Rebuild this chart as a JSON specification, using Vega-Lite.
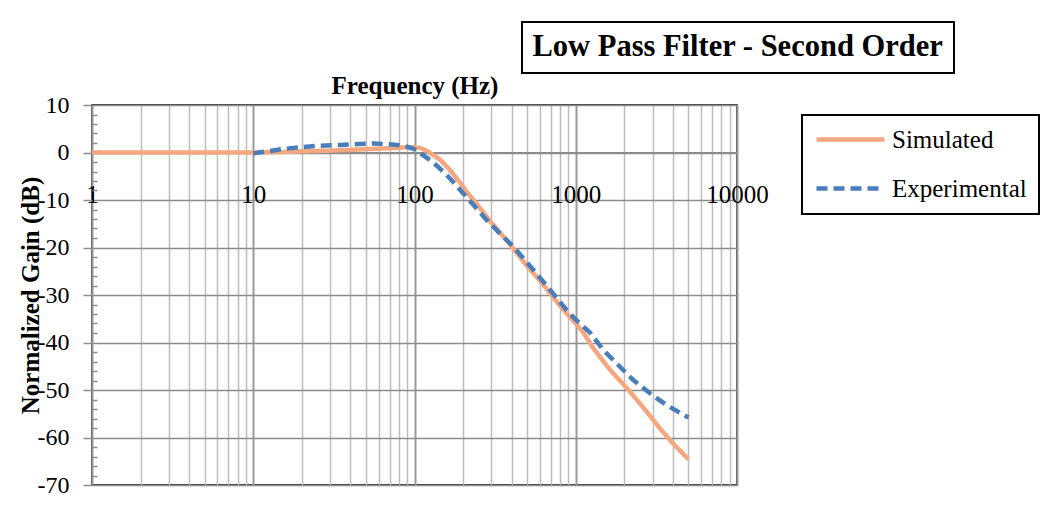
{
  "$schema": "https://vega.github.io/schema/vega-lite/v6.json",
  "width": 645,
  "height": 380,
  "autosize": "none",
  "padding": {"left": 92, "top": 105, "right": 324, "bottom": 30},
  "background": "white",
  "config": {
    "font": "Liberation Serif",
    "view": {"stroke": "black", "strokeWidth": 1.5},
    "legend": {"strokeWidth": 2}
  },
  "data": {
    "values": [
      {"f": 1, "gain": 0, "series": "Simulated"},
      {"f": 2, "gain": 0, "series": "Simulated"},
      {"f": 3, "gain": 0, "series": "Simulated"},
      {"f": 5, "gain": 0, "series": "Simulated"},
      {"f": 7, "gain": 0, "series": "Simulated"},
      {"f": 10, "gain": 0, "series": "Simulated"},
      {"f": 15, "gain": 0.1, "series": "Simulated"},
      {"f": 20, "gain": 0.25, "series": "Simulated"},
      {"f": 30, "gain": 0.4, "series": "Simulated"},
      {"f": 40, "gain": 0.55, "series": "Simulated"},
      {"f": 50, "gain": 0.7, "series": "Simulated"},
      {"f": 70, "gain": 0.9, "series": "Simulated"},
      {"f": 90, "gain": 1.1, "series": "Simulated"},
      {"f": 100, "gain": 1.1, "series": "Simulated"},
      {"f": 110, "gain": 0.9, "series": "Simulated"},
      {"f": 120, "gain": 0.3, "series": "Simulated"},
      {"f": 130, "gain": -0.5, "series": "Simulated"},
      {"f": 144, "gain": -1.5, "series": "Simulated"},
      {"f": 155, "gain": -2.6, "series": "Simulated"},
      {"f": 166, "gain": -3.7, "series": "Simulated"},
      {"f": 183, "gain": -5.5, "series": "Simulated"},
      {"f": 200, "gain": -7.2, "series": "Simulated"},
      {"f": 211, "gain": -8.3, "series": "Simulated"},
      {"f": 231, "gain": -9.9, "series": "Simulated"},
      {"f": 267, "gain": -12.6, "series": "Simulated"},
      {"f": 300, "gain": -14.8, "series": "Simulated"},
      {"f": 338, "gain": -16.8, "series": "Simulated"},
      {"f": 400, "gain": -19.8, "series": "Simulated"},
      {"f": 431, "gain": -21.2, "series": "Simulated"},
      {"f": 500, "gain": -23.9, "series": "Simulated"},
      {"f": 545, "gain": -25.4, "series": "Simulated"},
      {"f": 600, "gain": -27.0, "series": "Simulated"},
      {"f": 692, "gain": -29.6, "series": "Simulated"},
      {"f": 800, "gain": -32.3, "series": "Simulated"},
      {"f": 879, "gain": -33.9, "series": "Simulated"},
      {"f": 1000, "gain": -36.0, "series": "Simulated"},
      {"f": 1114, "gain": -37.9, "series": "Simulated"},
      {"f": 1285, "gain": -41.2, "series": "Simulated"},
      {"f": 1600, "gain": -45.4, "series": "Simulated"},
      {"f": 2070, "gain": -49.6, "series": "Simulated"},
      {"f": 2600, "gain": -53.5, "series": "Simulated"},
      {"f": 3333, "gain": -58.1, "series": "Simulated"},
      {"f": 4000, "gain": -61.2, "series": "Simulated"},
      {"f": 5000, "gain": -64.6, "series": "Simulated"},
      {"f": 10, "gain": -0.2, "series": "Experimental"},
      {"f": 12, "gain": 0.2, "series": "Experimental"},
      {"f": 15, "gain": 0.7, "series": "Experimental"},
      {"f": 19.5, "gain": 1.1, "series": "Experimental"},
      {"f": 25, "gain": 1.4, "series": "Experimental"},
      {"f": 35, "gain": 1.6, "series": "Experimental"},
      {"f": 45, "gain": 1.8, "series": "Experimental"},
      {"f": 56, "gain": 1.9, "series": "Experimental"},
      {"f": 65, "gain": 1.8, "series": "Experimental"},
      {"f": 78, "gain": 1.6, "series": "Experimental"},
      {"f": 90, "gain": 1.2, "series": "Experimental"},
      {"f": 100, "gain": 0.7, "series": "Experimental"},
      {"f": 110, "gain": -0.3, "series": "Experimental"},
      {"f": 125, "gain": -1.6, "series": "Experimental"},
      {"f": 140, "gain": -3.0, "series": "Experimental"},
      {"f": 158, "gain": -4.7, "series": "Experimental"},
      {"f": 175, "gain": -6.3, "series": "Experimental"},
      {"f": 192, "gain": -7.9, "series": "Experimental"},
      {"f": 211, "gain": -9.4, "series": "Experimental"},
      {"f": 240, "gain": -11.6, "series": "Experimental"},
      {"f": 280, "gain": -14.2, "series": "Experimental"},
      {"f": 331, "gain": -16.7, "series": "Experimental"},
      {"f": 410, "gain": -19.8, "series": "Experimental"},
      {"f": 545, "gain": -24.7, "series": "Experimental"},
      {"f": 692, "gain": -28.9, "series": "Experimental"},
      {"f": 879, "gain": -33.2, "series": "Experimental"},
      {"f": 1000, "gain": -35.2, "series": "Experimental"},
      {"f": 1225, "gain": -37.9, "series": "Experimental"},
      {"f": 1483, "gain": -41.6, "series": "Experimental"},
      {"f": 1880, "gain": -45.1, "series": "Experimental"},
      {"f": 2274, "gain": -47.9, "series": "Experimental"},
      {"f": 2886, "gain": -50.7, "series": "Experimental"},
      {"f": 3664, "gain": -53.2, "series": "Experimental"},
      {"f": 5000, "gain": -55.8, "series": "Experimental"}
    ]
  },
  "encoding": {
    "x": {
      "field": "f",
      "type": "quantitative",
      "scale": {"type": "log", "domain": [1, 10000]},
      "axis": {
        "title": "Frequency (Hz)",
        "orient": "bottom",
        "offset": -332.5,
        "values": [1,2,3,4,5,6,7,8,9,10,20,30,40,50,60,70,80,90,100,200,300,400,500,600,700,800,900,1000,2000,3000,4000,5000,6000,7000,8000,9000,10000],
        "labelExpr": "indexof([1,10,100,1000,10000], datum.value) >= 0 ? '' + datum.value : ''",
        "ticks": false,
        "tickSize": 0,
        "labelPadding": 30,
        "labelFontSize": 25,
        "labelColor": "black",
        "labelFlush": false,
        "labelOverlap": false,
        "labelBound": false,
        "domainColor": "#8c8c8c",
        "domainWidth": 2,
        "grid": true,
        "gridColor": {"condition": {"test": "indexof([1,10,100,1000,10000], datum.value) >= 0", "value": "#9a9a9a"}, "value": "#bdbdbd"},
        "gridWidth": {"condition": {"test": "indexof([1,10,100,1000,10000], datum.value) >= 0", "value": 2}, "value": 1.5},
        "gridOpacity": 1,
        "titleFontSize": 25,
        "titleFontWeight": "bold",
        "titleColor": "black",
        "titleY": -67.5,
        "titleBaseline": "middle"
      }
    },
    "y": {
      "field": "gain",
      "type": "quantitative",
      "scale": {"domain": [-70, 10], "nice": false, "zero": false},
      "axis": {
        "title": "Normalized Gain (dB)",
        "values": [-70,-68,-66,-64,-62,-60,-58,-56,-54,-52,-50,-48,-46,-44,-42,-40,-38,-36,-34,-32,-30,-28,-26,-24,-22,-20,-18,-16,-14,-12,-10,-8,-6,-4,-2,0,2,4,6,8,10],
        "labelExpr": "datum.value % 10 === 0 ? '' + datum.value : ''",
        "domain": false,
        "grid": true,
        "gridColor": "#8c8c8c",
        "gridWidth": 1.5,
        "gridOpacity": {"condition": {"test": "datum.value % 10 === 0", "value": 1}, "value": 0},
        "tickColor": "#8c8c8c",
        "tickWidth": 1.5,
        "tickSize": {"condition": {"test": "datum.value % 10 === 0", "value": 9}, "value": -5},
        "labelPadding": 14,
        "labelFontSize": 24,
        "labelColor": "black",
        "labelFlush": false,
        "labelOverlap": false,
        "labelBound": false,
        "titleFontSize": 25,
        "titleFontWeight": "bold",
        "titleColor": "black",
        "titleX": -62,
        "titleBaseline": "middle"
      }
    }
  },
  "layer": [
    {
      "mark": {"type": "line", "strokeWidth": 4.5, "strokeCap": "butt"},
      "encoding": {
        "color": {
          "field": "series",
          "type": "nominal",
          "scale": {"domain": ["Simulated", "Experimental"], "range": ["#F5A780", "#4A7EBB"]},
          "legend": {
            "title": null,
            "orient": "none",
            "legendX": 710,
            "legendY": 10,
            "strokeColor": "black",
            "padding": 12,
            "symbolType": "M-1,0H5.8",
            "symbolSize": 400,
            "symbolStrokeWidth": 4.5,
            "labelFontSize": 25,
            "labelOffset": 53,
            "rowPadding": 23,
            "labelLimit": 400,
            "labelColor": "black"
          }
        },
        "strokeDash": {
          "field": "series",
          "type": "nominal",
          "scale": {"domain": ["Simulated", "Experimental"], "range": [[1, 0], [11, 6]]}
        }
      }
    },
    {
      "mark": {"type": "point", "opacity": 0},
      "encoding": {
        "shape": {
          "datum": "Low Pass Filter - Second Order",
          "legend": {
            "title": null,
            "orient": "none",
            "legendX": 430,
            "legendY": -83,
            "strokeColor": "black",
            "padding": 10,
            "symbolSize": 0,
            "symbolOpacity": 0,
            "symbolStrokeWidth": 0,
            "labelOffset": -30,
            "labelFontSize": 30.5,
            "labelFontWeight": "bold",
            "labelLimit": 1000,
            "labelColor": "black"
          }
        }
      }
    }
  ]
}
